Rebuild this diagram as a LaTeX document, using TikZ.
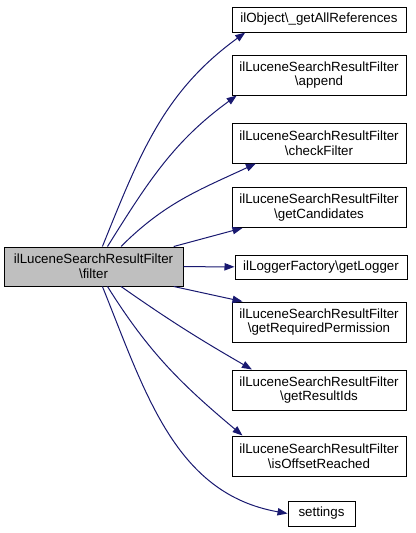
\documentclass[tikz,border=0pt]{standalone}
\usepackage{fontspec}
\setmainfont{Liberation Sans}
\usetikzlibrary{arrows.meta}
\definecolor{callblue}{HTML}{191970}
\definecolor{maingray}{HTML}{BFBFBF}
\begin{document}
\begin{tikzpicture}[x=0.75pt,y=-0.75pt,
    fn/.style={draw,line width=0.75pt,align=center,inner sep=1pt,
      minimum height=30pt,font=\fontsize{10}{11}\selectfont},
    wide/.style={fn,minimum width=130.5pt},
    call/.style={callblue,line width=0.75pt,-{Triangle[length=7.5pt,width=5.5pt]}}]
\useasboundingbox (0,0) rectangle (416,533);
\node [fn,fill=maingray,minimum width=134.25pt,minimum height=29.25pt] (filter) at (93.5,266.5)
    {ilLuceneSearchResultFilter\\\textbackslash filter};
\node [wide,minimum height=18.75pt] (allrefs) at (319,19.5) {ilObject\textbackslash\_getAllReferences};
\node [wide] (append) at (319,75) {ilLuceneSearchResultFilter\\\textbackslash append};
\node [wide] (check) at (319,143) {ilLuceneSearchResultFilter\\\textbackslash checkFilter};
\node [wide] (cand) at (319,207.5) {ilLuceneSearchResultFilter\\\textbackslash getCandidates};
\node [fn,minimum width=129pt,minimum height=18pt] (logger) at (321,267) {ilLoggerFactory\textbackslash getLogger};
\node [wide] (perm) at (319,322) {ilLuceneSearchResultFilter\\\textbackslash getRequiredPermission};
\node [wide] (ids) at (319,390) {ilLuceneSearchResultFilter\\\textbackslash getResultIds};
\node [wide] (offset) at (319,456) {ilLuceneSearchResultFilter\\\textbackslash isOffsetReached};
\node [fn,minimum width=50.25pt,minimum height=18.75pt] (settings) at (321.5,513.5) {settings};
\draw [call] (filter.66) to[out=68,in=-144] (allrefs.190);
\draw [call] (filter.55) to[out=58,in=-144] (append.194);
\draw [call] (filter.36) to[out=45,in=-155] (check.198);
\draw [call] (filter.14) -- (cand.195);
\draw [call] (filter) -- (logger);
\draw [call] (filter.-14) -- (perm.165);
\draw [call] (filter.-36) to[out=-35,in=150] (ids.163);
\draw [call] (filter.-55) to[out=-58,in=140] (offset.165);
\draw [call] (filter.-66) to[out=-68,in=170] (settings.west);
\end{tikzpicture}
\end{document}
